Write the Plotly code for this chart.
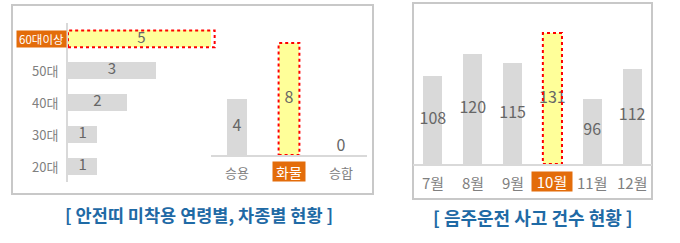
import plotly.graph_objects as go

# ---------------- data ----------------
ages = ["20대", "30대", "40대", "50대", "60대이상"]
age_vals = [1, 1, 2, 3, 5]
age_hi = "60대이상"

car_types = ["승용", "화물", "승합"]
car_vals = [4, 8, 0]
car_hi = "화물"

months = ["7월", "8월", "9월", "10월", "11월", "12월"]
month_vals = [108, 120, 115, 131, 96, 112]
month_hi = "10월"

title_left = "[ 안전띠 미착용 연령별, 차종별 현황 ]"
title_right = "[ 음주운전 사고 건수 현황 ]"

# ---------------- style ----------------
W, H = 680, 243
FONT = "Noto Sans CJK KR"
GRAY_BAR = "#d9d9d9"
YELLOW = "#ffff99"
RED = "#ff0000"
ORANGE = "#e36c0a"
VAL_COLOR = "#666666"
TICK_COLOR = "#808080"
TITLE_COLOR = "#1f6aa5"
FRAME = "#c8c8c8"


def px(x):
    return x / W


def py(y):
    return 1 - y / H


def colors(cats, hi):
    return [YELLOW if c == hi else GRAY_BAR for c in cats]


fig = go.Figure()

# age chart (horizontal)
age_w = 0.53
fig.add_trace(go.Bar(
    y=ages, x=age_vals, orientation="h", xaxis="x", yaxis="y",
    width=age_w, marker=dict(color=colors(ages, age_hi), line=dict(width=0)),
    hoverinfo="skip",
))
fig.add_trace(go.Scatter(
    y=ages, x=[v / 2 for v in age_vals], xaxis="x", yaxis="y",
    mode="text", text=[str(v) for v in age_vals], textposition="middle center",
    textfont=dict(family=FONT, size=15, color=VAL_COLOR),
    hoverinfo="skip", cliponaxis=False,
))

# car type chart
car_w = 0.4
fig.add_trace(go.Bar(
    x=car_types, y=car_vals, xaxis="x2", yaxis="y2",
    width=car_w, marker=dict(color=colors(car_types, car_hi), line=dict(width=0)),
    hoverinfo="skip",
))
fig.add_trace(go.Scatter(
    x=car_types, y=[v / 2 for v in car_vals], xaxis="x2", yaxis="y2",
    mode="text", text=[str(v) for v in car_vals],
    textposition=["middle center" if v else "top center" for v in car_vals],
    textfont=dict(family=FONT, size=16, color=VAL_COLOR),
    hoverinfo="skip", cliponaxis=False,
))

# monthly chart
m_w = 0.48
y3_min = 61
y3_max = 61 + 144 / 1.87
fig.add_trace(go.Bar(
    x=months, y=month_vals, xaxis="x3", yaxis="y3",
    width=m_w, marker=dict(color=colors(months, month_hi), line=dict(width=0)),
    hoverinfo="skip",
))
fig.add_trace(go.Scatter(
    x=months, y=[(v + y3_min) / 2 for v in month_vals], xaxis="x3", yaxis="y3",
    mode="text", text=[str(v) for v in month_vals],
    textfont=dict(family=FONT, size=16, color=VAL_COLOR),
    hoverinfo="skip", cliponaxis=False,
))

shapes = []
# frames
shapes.append(dict(type="rect", xref="paper", yref="paper",
                   x0=px(12), x1=px(373), y0=py(194), y1=py(5),
                   line=dict(color=FRAME, width=2), fillcolor="rgba(0,0,0,0)", layer="below"))
shapes.append(dict(type="rect", xref="paper", yref="paper",
                   x0=px(413), x1=px(652), y0=py(199), y1=py(3),
                   line=dict(color=FRAME, width=2), fillcolor="rgba(0,0,0,0)", layer="below"))

dot = dict(color=RED, width=2, dash="dot")
i = ages.index(age_hi)
shapes.append(dict(type="rect", xref="x", yref="y", x0=0, x1=age_vals[i],
                   y0=i - age_w / 2, y1=i + age_w / 2, line=dot))
i = car_types.index(car_hi)
shapes.append(dict(type="rect", xref="x2", yref="y2", x0=i - car_w / 2, x1=i + car_w / 2,
                   y0=0, y1=car_vals[i], line=dot))
i = months.index(month_hi)
shapes.append(dict(type="rect", xref="x3", yref="y3", x0=i - m_w / 2, x1=i + m_w / 2,
                   y0=y3_min, y1=month_vals[i], line=dot))

ann = []
# age tick labels
for c in ages:
    if c == age_hi:
        ann.append(dict(x=px(67), y=c, xref="paper", yref="y", xanchor="right", yanchor="middle",
                        text=c, showarrow=False, bgcolor=ORANGE, width=49, height=16,
                        font=dict(family=FONT, size=11.5, color="white"), borderpad=0))
    else:
        ann.append(dict(x=px(60), y=c, xref="paper", yref="y", xanchor="right", yanchor="middle",
                        text=c, showarrow=False,
                        font=dict(family=FONT, size=13, color=TICK_COLOR)))
# car tick labels
for c in car_types:
    if c == car_hi:
        ann.append(dict(x=c, y=py(171.5), xref="x2", yref="paper", xanchor="center", yanchor="middle",
                        text=c, showarrow=False, bgcolor=ORANGE, width=32, height=19,
                        font=dict(family=FONT, size=14, color="white"), borderpad=0))
    else:
        ann.append(dict(x=c, y=py(172), xref="x2", yref="paper", xanchor="center", yanchor="middle",
                        text=c, showarrow=False,
                        font=dict(family=FONT, size=13, color=TICK_COLOR)))
# month tick labels
for c in months:
    if c == month_hi:
        ann.append(dict(x=c, y=py(181.5), xref="x3", yref="paper", xanchor="center", yanchor="middle",
                        text=c, showarrow=False, bgcolor=ORANGE, width=40, height=19,
                        font=dict(family=FONT, size=15, color="white"), borderpad=0))
    else:
        ann.append(dict(x=c, y=py(182), xref="x3", yref="paper", xanchor="center", yanchor="middle",
                        text=c, showarrow=False,
                        font=dict(family=FONT, size=15, color=TICK_COLOR)))
# titles
ann.append(dict(x=px(199), y=py(214), xref="paper", yref="paper", xanchor="center", yanchor="middle",
                text="<b>" + title_left + "</b>", showarrow=False,
                font=dict(family=FONT, size=17.5, color=TITLE_COLOR)))
ann.append(dict(x=px(533), y=py(217), xref="paper", yref="paper", xanchor="center", yanchor="middle",
                text="<b>" + title_right + "</b>", showarrow=False,
                font=dict(family=FONT, size=18, color=TITLE_COLOR)))

axis_off = dict(showgrid=False, zeroline=False, showticklabels=False, ticks="", fixedrange=True)

fig.update_layout(
    width=W, height=H, margin=dict(l=0, r=0, t=0, b=0),
    paper_bgcolor="white", plot_bgcolor="white", showlegend=False,
    font=dict(family=FONT),
    xaxis=dict(domain=[px(68), px(225)], range=[0, 157 / 29.33], anchor="y", **axis_off),
    yaxis=dict(domain=[py(182), py(23)], type="category", categoryorder="array", categoryarray=ages,
               range=[-0.5, 4.5], anchor="x", showline=True, linecolor=GRAY_BAR, linewidth=1.5, **axis_off),
    xaxis2=dict(domain=[px(211), px(367)], type="category", range=[-0.5, 2.5], anchor="y2",
                showline=True, linecolor=GRAY_BAR, linewidth=1.5, **axis_off),
    yaxis2=dict(domain=[py(155), py(30)], range=[0, 125 / 14], anchor="x2", showline=False, **axis_off),
    xaxis3=dict(domain=[px(413), px(652)], type="category", range=[-0.5, 5.5], anchor="y3",
                showline=True, linecolor=GRAY_BAR, linewidth=2, **axis_off),
    yaxis3=dict(domain=[py(164), py(20)], range=[y3_min, y3_max], anchor="x3", showline=False, **axis_off),
    shapes=shapes, annotations=ann,
    bargap=0,
)

fig.write_html("out.html")
